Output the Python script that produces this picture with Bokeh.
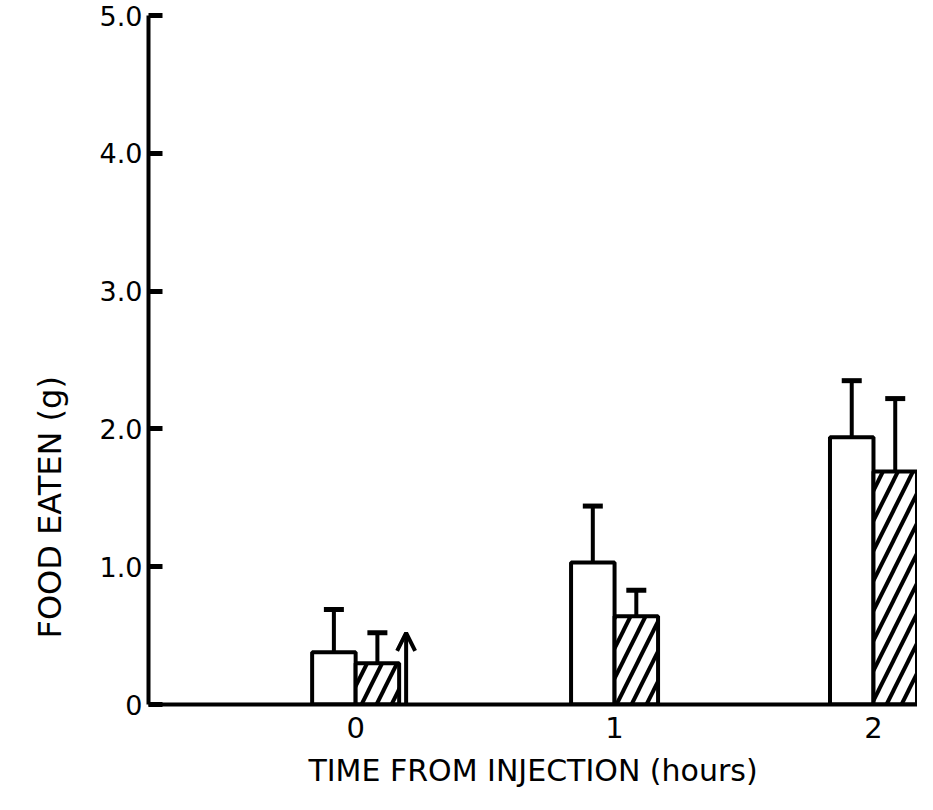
from bokeh.plotting import figure
from bokeh.models import (ColumnDataSource, FixedTicker, Range1d, Whisker, TeeHead,
                          Arrow, OpenHead, Title)
from bokeh.transform import dodge
from bokeh.embed import file_html
from bokeh.resources import INLINE

# ---- data ----
hours = [0, 1, 2]
hour_labels = ["0", "1", "2"]
open_means = [0.38, 1.03, 1.94]
open_err = [0.31, 0.41, 0.41]
hatched_means = [0.30, 0.64, 1.69]
hatched_err = [0.22, 0.19, 0.53]
y_ticks = [0, 1, 2, 3, 4, 5]
y_tick_labels = ["0", "1.0", "2.0", "3.0", "4.0", "5.0"]
injection_hour = 0
injection_arrow_height = 0.52

FONT = "DejaVu Sans"
BAR_W = 0.168

src = ColumnDataSource(dict(
    x=hours,
    open_top=open_means,
    open_up=[m + e for m, e in zip(open_means, open_err)],
    hatch_top=hatched_means,
    hatch_up=[m + e for m, e in zip(hatched_means, hatched_err)],
))

p = figure(width=917, height=794, output_backend="svg", toolbar_location=None,
           x_range=Range1d(-0.80, 2.17), y_range=Range1d(0, 5.0),
           min_border_left=147, min_border_right=0, min_border_top=15,
           min_border_bottom=90)
p.outline_line_color = None
p.grid.visible = False
p.background_fill_color = "white"
p.border_fill_color = "white"

# bars
p.vbar(x=dodge("x", -BAR_W / 2), top="open_top", bottom=0, width=BAR_W, source=src,
       fill_color="white", line_color="black", line_width=4)
p.vbar(x=dodge("x", BAR_W / 2), top="hatch_top", bottom=0, width=BAR_W, source=src,
       fill_color="white", line_color="black", line_width=4,
       hatch_pattern="right_diagonal_line", hatch_color="black",
       hatch_weight=4, hatch_scale=30)

# error bars (upward only)
for base, lo, hi in [(dodge("x", -BAR_W / 2), "open_top", "open_up"),
                     (dodge("x", BAR_W / 2), "hatch_top", "hatch_up")]:
    w = Whisker(source=src, base=base, lower=lo, upper=hi, dimension="height",
                line_color="black", line_width=4,
                upper_head=TeeHead(size=20, line_width=5, line_color="black"),
                lower_head=None)
    p.add_layout(w)

# injection arrow
p.add_layout(Arrow(x_start=injection_hour + 0.195, y_start=0,
                   x_end=injection_hour + 0.195, y_end=injection_arrow_height,
                   line_width=4, line_color="black",
                   end=OpenHead(size=18, line_width=4, line_color="black")))

# axes
p.yaxis.ticker = FixedTicker(ticks=y_ticks)
p.yaxis.major_label_overrides = {t: l for t, l in zip(y_ticks, y_tick_labels)}
p.yaxis.axis_line_width = 4
p.yaxis.major_tick_in = 14
p.yaxis.major_tick_out = 0
p.yaxis.major_tick_line_width = 5
p.yaxis.minor_tick_line_color = None
p.yaxis.major_label_text_font = FONT
p.yaxis.major_label_text_font_size = "27px"
p.yaxis.major_label_text_color = "black"
p.yaxis.major_label_standoff = 6

p.xaxis.ticker = FixedTicker(ticks=hours)
p.xaxis.major_label_overrides = {h: l for h, l in zip(hours, hour_labels)}
p.xaxis.axis_line_width = 4
p.xaxis.major_tick_in = 0
p.xaxis.major_tick_out = 0
p.xaxis.minor_tick_line_color = None
p.xaxis.major_label_text_font = FONT
p.xaxis.major_label_text_font_size = "29px"
p.xaxis.major_label_text_color = "black"
p.xaxis.major_label_standoff = 12
p.xaxis.axis_label = "TIME FROM INJECTION (hours)"
p.xaxis.axis_label_text_font = FONT
p.xaxis.axis_label_text_font_size = "30px"
p.xaxis.axis_label_text_font_style = "normal"
p.xaxis.axis_label_text_color = "black"
p.xaxis.axis_label_standoff = 12

# y axis title, shifted toward the bottom like the reference
ytitle = Title(text="FOOD EATEN (g)", align="left", offset=66, standoff=56,
               text_font=FONT, text_font_size="32px", text_font_style="normal",
               text_color="black")
p.add_layout(ytitle, "left")

open("out.html", "w").write(file_html(p, INLINE))
